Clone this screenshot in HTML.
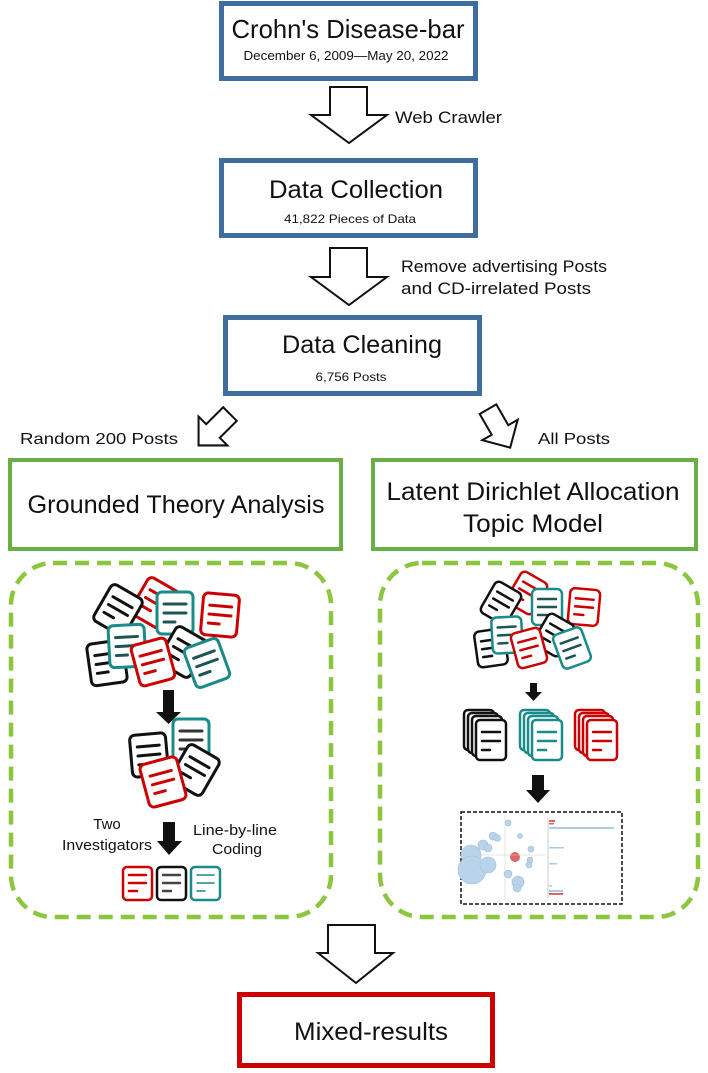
<!DOCTYPE html>
<html><head><meta charset="utf-8"><style>
html,body{margin:0;padding:0;background:#fff;width:708px;height:1073px;overflow:hidden}
svg{display:block}
text{font-family:"Liberation Sans",sans-serif;fill:#111}
</style></head><body>
<svg width="708" height="1073" viewBox="0 0 708 1073" xmlns="http://www.w3.org/2000/svg">
<rect x="221.5" y="3.5" width="254" height="75" fill="#fff" stroke="#3f6e9e" stroke-width="5"/>
<text x="348" y="38" font-size="26" text-anchor="middle" textLength="233" lengthAdjust="spacingAndGlyphs">Crohn's Disease-bar</text>
<text x="346" y="60" font-size="12.5" text-anchor="middle" textLength="205" lengthAdjust="spacingAndGlyphs">December 6, 2009—May 20, 2022</text>
<path d="M330,87 H367 V115 H387 L349,143 L311,115 H330 Z" fill="#fff" stroke="#111" stroke-width="2"/>
<text x="395" y="123" font-size="17" textLength="107" lengthAdjust="spacingAndGlyphs">Web Crawler</text>

<rect x="221.5" y="160.5" width="254" height="75" fill="#fff" stroke="#3f6e9e" stroke-width="5"/>
<text x="356" y="198" font-size="25" text-anchor="middle" textLength="174" lengthAdjust="spacingAndGlyphs">Data Collection</text>
<text x="350" y="223" font-size="12" text-anchor="middle" textLength="132" lengthAdjust="spacingAndGlyphs">41,822 Pieces of Data</text>
<path d="M330,248 H367 V277 H387 L349,305 L311,277 H330 Z" fill="#fff" stroke="#111" stroke-width="2"/>
<text x="401" y="272" font-size="16.5" textLength="206" lengthAdjust="spacingAndGlyphs">Remove advertising Posts</text>
<text x="401" y="294" font-size="16.5" textLength="190" lengthAdjust="spacingAndGlyphs">and CD-irrelated Posts</text>

<rect x="225.5" y="317.5" width="254" height="76" fill="#fff" stroke="#3f6e9e" stroke-width="5"/>
<text x="362" y="353" font-size="25" text-anchor="middle" textLength="160" lengthAdjust="spacingAndGlyphs">Data Cleaning</text>
<text x="351" y="381" font-size="12" text-anchor="middle" textLength="71" lengthAdjust="spacingAndGlyphs">6,756 Posts</text>

<g transform="translate(213,431) rotate(45) scale(1.2)"><path d="M-8,-20 H8 V0 H17 L0,17 L-17,0 H-8 Z" fill="#fff" stroke="#111" stroke-width="1.7"/></g>
<g transform="translate(500,430) rotate(-30) scale(1.2)"><path d="M-8,-20 H8 V0 H17 L0,17 L-17,0 H-8 Z" fill="#fff" stroke="#111" stroke-width="1.7"/></g>
<text x="20" y="444" font-size="16" textLength="158" lengthAdjust="spacingAndGlyphs">Random 200 Posts</text>
<text x="538" y="444" font-size="16" textLength="72" lengthAdjust="spacingAndGlyphs">All Posts</text>

<rect x="10" y="460" width="331" height="89" fill="#fff" stroke="#6aaf45" stroke-width="4"/>
<text x="176" y="513" font-size="25" text-anchor="middle" textLength="297" lengthAdjust="spacingAndGlyphs">Grounded Theory Analysis</text>
<rect x="373" y="460" width="323" height="89" fill="#fff" stroke="#6aaf45" stroke-width="4"/>
<text x="533" y="500" font-size="25" text-anchor="middle" textLength="293" lengthAdjust="spacingAndGlyphs">Latent Dirichlet Allocation</text>
<text x="533" y="532" font-size="25" text-anchor="middle" textLength="140" lengthAdjust="spacingAndGlyphs">Topic Model</text>

<rect x="11" y="563" width="320" height="354" rx="42" fill="none" stroke="#8cc63f" stroke-width="4.5" stroke-dasharray="14 8"/>
<rect x="380" y="563" width="318" height="354" rx="42" fill="none" stroke="#8cc63f" stroke-width="4.5" stroke-dasharray="14 8"/>

<g stroke-width="3" fill="#fff" stroke-linecap="round">
<g transform="translate(155,603) rotate(30)" stroke="#c00"><rect x="-18" y="-21" width="36" height="42" rx="5"/><path d="M-11,-9H11M-11,0H11M-11,9H0"/></g>
<g transform="translate(118,610) rotate(30)" stroke="#111"><rect x="-18" y="-21" width="36" height="42" rx="5"/><path d="M-11,-9H11M-11,0H11M-11,9H0"/></g>
<g transform="translate(175,613) rotate(0)" stroke="#1a8a8a"><rect x="-18" y="-21" width="36" height="42" rx="5"/><path d="M-11,-9H11M-11,0H11M-11,9H0" stroke="#1d5555"/></g>
<g transform="translate(220,615) rotate(5)" stroke="#c00"><rect x="-18" y="-21" width="36" height="42" rx="5"/><path d="M-11,-9H11M-11,0H11M-11,9H0"/></g>
<g transform="translate(107,663) rotate(-8)" stroke="#111"><rect x="-18" y="-21" width="36" height="42" rx="5"/><path d="M-11,-9H11M-11,0H11M-11,9H0"/></g>
<g transform="translate(127,646) rotate(-3)" stroke="#1a8a8a"><rect x="-18" y="-21" width="36" height="42" rx="5"/><path d="M-11,-9H11M-11,0H11M-11,9H0" stroke="#1d5555"/></g>
<g transform="translate(183,652) rotate(30)" stroke="#111"><rect x="-18" y="-21" width="36" height="42" rx="5"/><path d="M-11,-9H11M-11,0H11M-11,9H0"/></g>
<g transform="translate(153,662) rotate(-15)" stroke="#c00"><rect x="-18" y="-21" width="36" height="42" rx="5"/><path d="M-11,-9H11M-11,0H11M-11,9H0"/></g>
<g transform="translate(207,663) rotate(-20)" stroke="#1a8a8a"><rect x="-18" y="-21" width="36" height="42" rx="5"/><path d="M-11,-9H11M-11,0H11M-11,9H0" stroke="#1d5555"/></g>
<g transform="translate(149,755) rotate(-5)" stroke="#111"><rect x="-18" y="-21" width="36" height="42" rx="5"/><path d="M-11,-9H11M-11,0H11M-11,9H0"/></g>
<g transform="translate(191,740)" stroke="#1a8a8a"><rect x="-18" y="-21" width="36" height="42" rx="5"/><path d="M-11,-9H11M-11,0H11M-11,9H0" stroke="#333"/></g>
<g transform="translate(195,770) rotate(30)" stroke="#111"><rect x="-18" y="-21" width="36" height="42" rx="5"/><path d="M-11,-9H11M-11,0H11M-11,9H0"/></g>
<g transform="translate(163,782) rotate(-15)" stroke="#c00"><rect x="-19" y="-22" width="38" height="44" rx="5"/><path d="M-11,-9H11M-11,0H11M-11,9H0"/></g>
<g stroke-width="2.5">
<rect x="123" y="867" width="29" height="33" rx="4" stroke="#c00"/><path d="M129,875H146M129,883H146M129,891H137" stroke="#c00"/>
<rect x="157" y="867" width="29" height="33" rx="4" stroke="#111"/><path d="M163,875H180M163,883H180M163,891H171" stroke="#444"/>
<rect x="191" y="867" width="29" height="33" rx="4" stroke="#1a8a8a"/><path d="M197,875H214M197,883H214M197,891H205" stroke="#1a8a8a" stroke-width="1.5"/>
</g>
</g>
<path d="M163,690 H174 V712 H181 L168.5,724 L156,712 H163 Z" fill="#111"/>
<path d="M163,822 H175 V841 H182 L169,855 L157,841 H163 Z" fill="#111"/>
<text x="107" y="829" font-size="15" text-anchor="middle">Two</text>
<text x="152" y="850" font-size="15" text-anchor="end" textLength="90" lengthAdjust="spacingAndGlyphs">Investigators</text>
<text x="193" y="835" font-size="15" textLength="84" lengthAdjust="spacingAndGlyphs">Line-by-line</text>
<text x="212" y="854" font-size="15" textLength="50" lengthAdjust="spacingAndGlyphs">Coding</text>

<g stroke-width="2.5" fill="#fff" stroke-linecap="round">
<g transform="translate(527,593) rotate(30)" stroke="#c00"><rect x="-15" y="-18" width="30" height="36" rx="5"/><path d="M-9,-8H9M-9,0H9M-9,8H0"/></g>
<g transform="translate(501,603) rotate(30)" stroke="#111"><rect x="-15" y="-18" width="30" height="36" rx="5"/><path d="M-9,-8H9M-9,0H9M-9,8H0"/></g>
<g transform="translate(547,607)" stroke="#1a8a8a"><rect x="-15" y="-18" width="30" height="36" rx="5"/><path d="M-9,-8H9M-9,0H9M-9,8H0" stroke="#1d5555"/></g>
<g transform="translate(584,607) rotate(5)" stroke="#c00"><rect x="-15" y="-18" width="30" height="36" rx="5"/><path d="M-9,-8H9M-9,0H9M-9,8H0"/></g>
<g transform="translate(491,648) rotate(-8)" stroke="#111"><rect x="-15" y="-18" width="30" height="36" rx="5"/><path d="M-9,-8H9M-9,0H9M-9,8H0"/></g>
<g transform="translate(507,635) rotate(-3)" stroke="#1a8a8a"><rect x="-15" y="-18" width="30" height="36" rx="5"/><path d="M-9,-8H9M-9,0H9M-9,8H0" stroke="#1d5555"/></g>
<g transform="translate(554,635) rotate(30)" stroke="#111"><rect x="-15" y="-18" width="30" height="36" rx="5"/><path d="M-9,-8H9M-9,0H9M-9,8H0"/></g>
<g transform="translate(529,648) rotate(-15)" stroke="#c00"><rect x="-15" y="-18" width="30" height="36" rx="5"/><path d="M-9,-8H9M-9,0H9M-9,8H0"/></g>
<g transform="translate(572,648) rotate(-20)" stroke="#1a8a8a"><rect x="-15" y="-18" width="30" height="36" rx="5"/><path d="M-9,-8H9M-9,0H9M-9,8H0" stroke="#1d5555"/></g>
<g stroke="#111"><rect x="464" y="710" width="30" height="40" rx="4"/><rect x="468" y="713" width="30" height="40" rx="4"/><rect x="472" y="716" width="30" height="40" rx="4"/><rect x="476" y="720" width="30" height="40" rx="4"/><path d="M482,732H500M482,741H500M482,750H490"/></g>
<g stroke="#1a8a8a"><rect x="520" y="710" width="30" height="40" rx="4"/><rect x="524" y="713" width="30" height="40" rx="4"/><rect x="528" y="716" width="30" height="40" rx="4"/><rect x="532" y="720" width="30" height="40" rx="4"/><path d="M538,732H556M538,741H556M538,750H546"/></g>
<g stroke="#c00"><rect x="575" y="710" width="30" height="40" rx="4"/><rect x="579" y="713" width="30" height="40" rx="4"/><rect x="583" y="716" width="30" height="40" rx="4"/><rect x="587" y="720" width="30" height="40" rx="4"/><path d="M593,732H611M593,741H611M593,750H601"/></g>
</g>
<path d="M530,683 H537 V692 H542 L533.5,701 L525,692 H530 Z" fill="#111"/>
<path d="M532,775 H544 V790 H550 L538,803 L526,790 H532 Z" fill="#111"/>

<rect x="461" y="812" width="161" height="92" fill="#fff" stroke="#111" stroke-width="1.5" stroke-dasharray="4 2"/>
<g fill="#b9d4ea" stroke="#9bbfdc" stroke-width="0.6">
<circle cx="471" cy="855" r="10"/><circle cx="472" cy="870" r="14"/><circle cx="488" cy="865" r="8"/><circle cx="483" cy="845" r="5"/><circle cx="488" cy="848" r="4"/>
<circle cx="493" cy="836" r="4"/><circle cx="497" cy="838" r="3.5"/><circle cx="508" cy="823" r="3"/><circle cx="520" cy="836" r="2.5"/>
<circle cx="508" cy="874" r="4"/><circle cx="518" cy="882" r="6"/><circle cx="517" cy="888" r="4"/><circle cx="530" cy="860" r="3"/><circle cx="531" cy="849" r="3"/><circle cx="529" cy="865" r="3"/>
</g>
<circle cx="515" cy="857" r="5" fill="#e06666"/>
<path d="M465,855H545M505,815V900" stroke="#ccc" stroke-width="0.5"/>
<g fill="#a8cce6"><rect x="549" y="827" width="65" height="2"/><rect x="549" y="847" width="15" height="1.5"/><rect x="549" y="863" width="8" height="1.5"/><rect x="549" y="885" width="3" height="1.5"/></g>
<g fill="#e06666"><rect x="549" y="820" width="6" height="2"/><rect x="549" y="823" width="5" height="1.5"/></g>
<path d="M548,818V898" stroke="#999" stroke-width="0.5"/>
<rect x="549" y="890" width="14" height="2" fill="#a8cce6"/><rect x="549" y="893" width="14" height="2" fill="#e06666"/>

<path d="M328,925 H375 V953 H393 L356,983 L318,953 H328 Z" fill="#fff" stroke="#111" stroke-width="2"/>
<rect x="239.5" y="994.5" width="253" height="71" fill="#fff" stroke="#c00" stroke-width="5"/>
<text x="371" y="1040" font-size="25" text-anchor="middle" textLength="154" lengthAdjust="spacingAndGlyphs">Mixed-results</text>
</svg>
</body></html>
